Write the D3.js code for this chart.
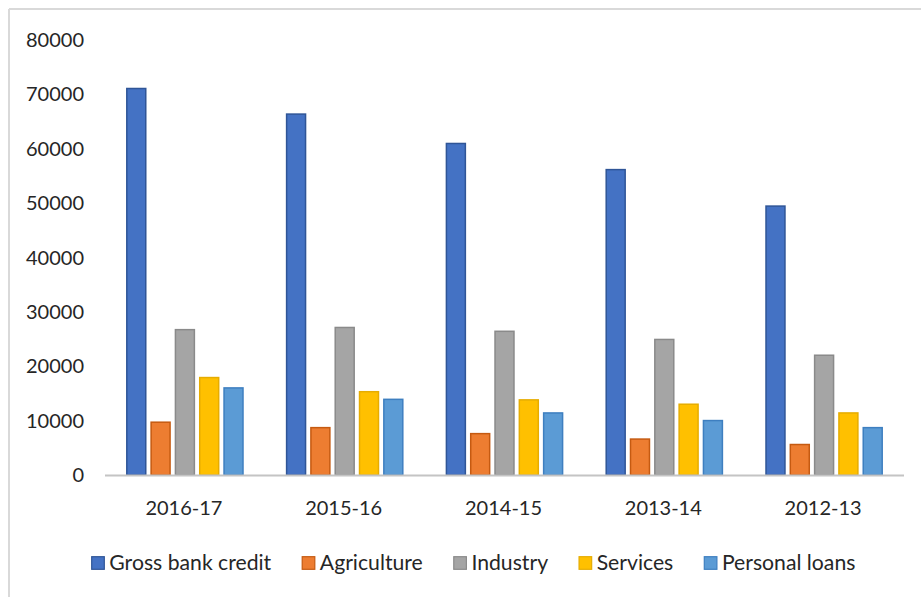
<!DOCTYPE html>
<html>
<head>
<meta charset="utf-8">
<script src="https://cdn.jsdelivr.net/npm/d3@7"></script>
<style>
  html, body { margin: 0; padding: 0; background: #fff; }
  svg { display: block; }
  text { font-family: Lato, "Open Sans", sans-serif; fill: #262626; }
</style>
</head>
<body>
<script>
// Bank credit by sector, per financial year
const categories = ["2016-17", "2015-16", "2014-15", "2013-14", "2012-13"];
const seriesNames = ["Gross bank credit", "Agriculture", "Industry", "Services", "Personal loans"];
const grossBankCredit = [71000, 66300, 60900, 56100, 49400];
const agriculture = [9700, 8700, 7600, 6600, 5600];
const industry = [26700, 27100, 26400, 24900, 22000];
const services = [17900, 15300, 13800, 13000, 11400];
const personalLoans = [16000, 13900, 11400, 10000, 8700];
const yTicks = [0, 10000, 20000, 30000, 40000, 50000, 60000, 70000, 80000];

const seriesValues = [grossBankCredit, agriculture, industry, services, personalLoans];
const fills = ["#4472C4", "#ED7D31", "#A5A5A5", "#FFC000", "#5B9BD5"];
const strokes = ["#2F5597", "#C55A11", "#8A8A8A", "#E6AC00", "#3E7FC0"];

const W = 921, H = 597;
const svg = d3.select("body").append("svg").attr("width", W).attr("height", H);

// chart frame (top and left edges)
svg.append("line").attr("x1", 9).attr("x2", W).attr("y1", 9).attr("y2", 9)
  .attr("stroke", "#D9D9D9").attr("stroke-width", 2);
svg.append("line").attr("x1", 9).attr("x2", 9).attr("y1", 9).attr("y2", H)
  .attr("stroke", "#D9D9D9").attr("stroke-width", 2);

const plot = { left: 105, right: 904, top: 39.5, bottom: 475 };

const x0 = d3.scaleBand().domain(categories).range([plot.left, plot.right]);
const x1 = d3.scaleBand().domain(seriesNames)
  .range([21.8, x0.bandwidth() - 21.8]).paddingInner(0.22);
const y = d3.scaleLinear().domain([0, 80000]).range([plot.bottom, plot.top]);

// value axis labels
svg.append("g").selectAll("text").data(yTicks).join("text")
  .attr("x", 84).attr("y", d => y(d)).attr("dy", 7.3)
  .attr("text-anchor", "end").attr("font-size", 20)
  .text(d => d);

// bars
const rows = categories.map((c, i) => ({ cat: c, vals: seriesValues.map(s => s[i]) }));
const groups = svg.append("g").selectAll("g").data(rows).join("g")
  .attr("transform", d => `translate(${x0(d.cat)},0)`);
groups.selectAll("rect").data(d => d.vals.map((v, k) => ({ v, k })))
  .join("rect")
  .attr("x", d => x1(seriesNames[d.k]))
  .attr("width", x1.bandwidth())
  .attr("y", d => y(d.v))
  .attr("height", d => y(0) - y(d.v))
  .attr("fill", d => fills[d.k])
  .attr("stroke", d => strokes[d.k])
  .attr("stroke-width", 1.5);

// category axis
svg.append("line").attr("x1", plot.left).attr("x2", plot.right)
  .attr("y1", plot.bottom + 0.5).attr("y2", plot.bottom + 0.5)
  .attr("stroke", "#C4C4C4").attr("stroke-width", 2);
svg.append("g").selectAll("text").data(categories).join("text")
  .attr("x", d => x0(d) + x0.bandwidth() / 2 - 1)
  .attr("y", 515).attr("text-anchor", "middle").attr("font-size", 20)
  .text(d => d);

// legend
const legend = svg.append("g");
let lx = 91.7;
seriesNames.forEach((name, k) => {
  legend.append("rect").attr("x", lx).attr("y", 556.7).attr("width", 12.6).attr("height", 12.6)
    .attr("fill", fills[k]).attr("stroke", strokes[k]).attr("stroke-width", 1.2);
  const t = legend.append("text").attr("x", lx + 17.6).attr("y", 569.5)
    .attr("font-size", 21.2).text(name);
  lx += 17.6 + t.node().getComputedTextLength() + 31;
});
</script>
</body>
</html>
